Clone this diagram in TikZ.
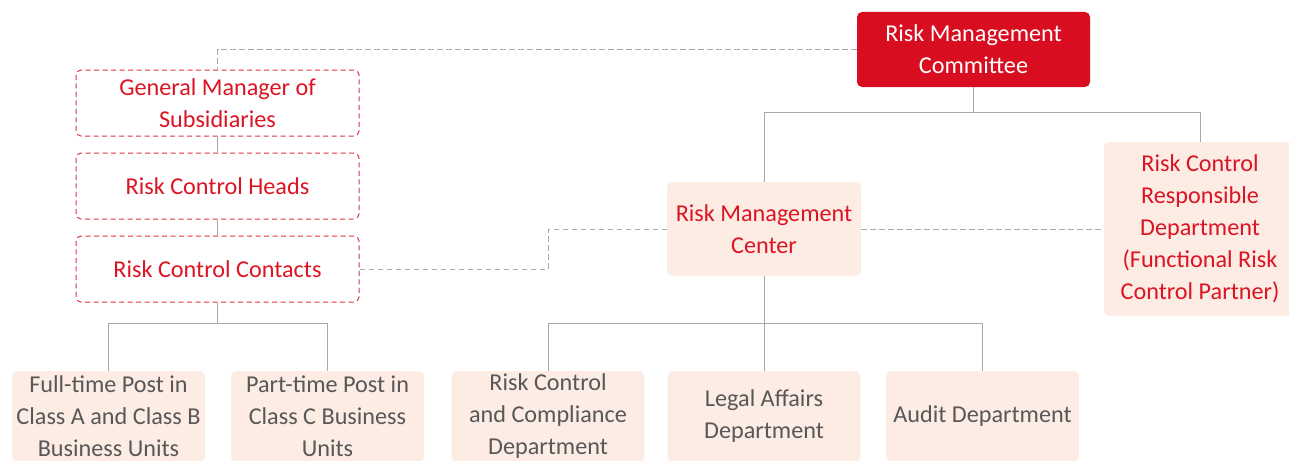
\documentclass[tikz,border=0pt]{standalone}
\usepackage{fontspec}
\setmainfont{Carlito}
\usetikzlibrary{calc}
\definecolor{rred}{RGB}{217,13,32}
\definecolor{tred}{RGB}{220,20,35}
\definecolor{peach}{RGB}{252,236,228}
\definecolor{tgray}{RGB}{89,87,87}
\definecolor{lgray}{RGB}{168,168,168}
\definecolor{dred}{RGB}{225,50,70}
\begin{document}
\begin{tikzpicture}[x=1pt,y=-1pt,
  every node/.style={inner sep=0pt, align=center, font=\fontsize{24.2}{32}\selectfont},
  redbox/.style={fill=rred, text=white, rounded corners=5pt},
  dashbox/.style={draw=dred, dash pattern=on 5pt off 3.5pt, line width=1pt, fill=white, text=tred, rounded corners=5pt, minimum width=283pt, minimum height=66pt},
  pbox/.style={fill=peach, rounded corners=6pt},
  pred/.style={pbox, text=tred},
  pgray/.style={pbox, text=tgray, minimum width=193pt, minimum height=91pt},
  conn/.style={draw=lgray, line width=1pt},
  dconn/.style={draw=lgray, line width=1pt, dash pattern=on 5.5pt off 3.5pt}]
\clip (0,0) rectangle (1289,460);
\fill[white] (0,0) rectangle (1289,460);
% top
\node[redbox, minimum width=233pt, minimum height=75pt] (rmc) at (973.5,49.5) {Risk Management\\Committee};
% left column
\node[dashbox] (gm) at (217.5,103) {General Manager of\\Subsidiaries};
\node[dashbox] (rch) at (217.5,186) {Risk Control Heads};
\node[dashbox] (rcc) at (217.5,269) {Risk Control Contacts};
% middle
\node[pred, minimum width=194pt, minimum height=94pt] (rmcen) at (764,229) {Risk Management\\Center};
\node[pred, minimum width=192pt, minimum height=174pt] (rcrd) at (1200,229) {Risk Control\\Responsible\\Department\\(Functional Risk\\Control Partner)};
% bottom
\node[pgray] (ft) at (108.5,416.5) {Full-time Post in\\Class A and Class B\\Business Units};
\node[pgray] (pt) at (327.5,416.5) {Part-time Post in\\Class C Business\\Units};
\node[pgray] (rccd) at (548,416.5) {Risk Control\\and Compliance\\Department};
\node[pgray] (legal) at (764,416.5) {Legal Affairs\\Department};
\node[pgray] (audit) at (982.5,416.5) {Audit Department};
% connectors
\coordinate (j1) at ($(rmc.south)+(0,25)$);
\draw[conn] (rmc.south) -- (j1);
\draw[conn] (j1) -| (rmcen.north);
\draw[conn] (j1) -| (rcrd.north);
\draw[dconn] (rmc.west) -| (gm.north);
\draw[conn] (gm.south) -- (rch.north);
\draw[conn] (rch.south) -- (rcc.north);
\coordinate (k) at (548,0);
\draw[dconn] (rcc.east) -| (k |- rmcen.west) -- (rmcen.west);
\draw[dconn] (rmcen.east) -- (rcrd.west);
\coordinate (j2) at ($(rcc.south)+(0,21)$);
\draw[conn] (rcc.south) -- (j2);
\draw[conn] (j2) -| (ft.north);
\draw[conn] (j2) -| (pt.north);
\coordinate (j3) at (764,323);
\draw[conn] (rmcen.south) -- (legal.north);
\draw[conn] (j3) -| (rccd.north);
\draw[conn] (j3) -| (audit.north);
\end{tikzpicture}
\end{document}
